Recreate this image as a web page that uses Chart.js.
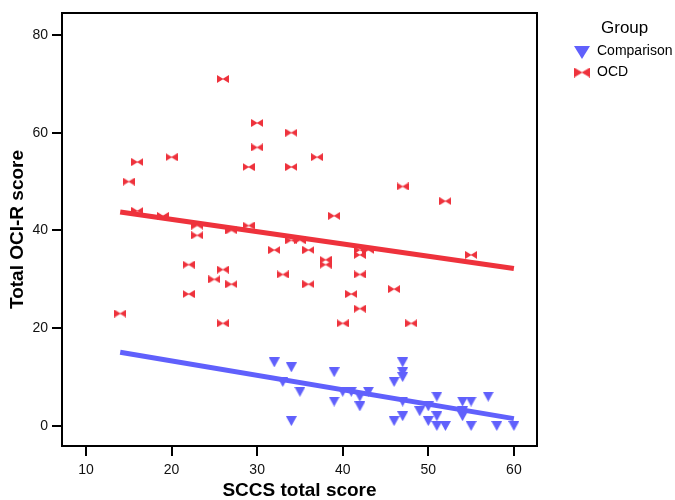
<!DOCTYPE html>
<html>
<head>
<meta charset="utf-8">
<script src="https://cdn.jsdelivr.net/npm/chart.js@4/dist/chart.umd.min.js"></script>
<style>
  body { margin: 0; background: #fff; }
</style>
</head>
<body>
<canvas id="my-chart" width="675" height="500"></canvas>
<script>
// values
const groups = ['Comparison', 'OCD']
const comparisonX = [32, 34, 33, 35, 34, 39, 39, 40, 41, 42, 42, 43, 47, 47, 47, 46, 47, 47, 46, 49, 50, 50, 51, 51, 51, 52, 54, 55, 54, 54, 55, 57, 58, 60]
const comparisonY = [13, 12, 9, 7, 1, 11, 5, 7, 7, 6, 4, 7, 13, 11, 10, 9, 5, 2, 1, 3, 4, 1, 6, 2, 0, 0, 5, 5, 3, 2, 0, 6, 0, 0]
const ocdX = [14, 15, 16, 16, 19, 20, 22, 22, 23, 23, 25, 26, 26, 26, 27, 27, 29, 29, 30, 30, 32, 33, 34, 34, 34, 35, 36, 36, 37, 38, 38, 39, 40, 41, 42, 42, 42, 42, 43, 46, 47, 48, 52, 55]
const ocdY = [23, 50, 54, 44, 43, 55, 33, 27, 41, 39, 30, 71, 32, 21, 40, 29, 53, 41, 62, 57, 36, 31, 60, 53, 38, 38, 36, 29, 55, 34, 33, 43, 21, 27, 36, 35, 31, 24, 36, 28, 49, 21, 46, 35]
// fit lines, end points
const fitX = [14, 60]
const comparisonFitY = [15.1, 1.5]
const ocdFitY = [43.8, 32.2]
const xTicks = [10, 20, 30, 40, 50, 60]
const yTicks = [0, 20, 40, 60, 80]

const blue = 'rgb(96, 96, 252)'
const red = 'rgb(238, 50, 60)'
const fontName = "'Liberation Sans', Arial, sans-serif"

const makeTriangle = (w, h, color) => {
  const c = document.createElement('canvas')
  c.width = w; c.height = h
  const g = c.getContext('2d')
  g.fillStyle = color
  g.beginPath(); g.moveTo(0, 0); g.lineTo(w, 0); g.lineTo(w / 2, h); g.closePath(); g.fill()
  return c
}
const makeBowtie = (w, h, color) => {
  const c = document.createElement('canvas')
  c.width = w; c.height = h
  const g = c.getContext('2d')
  g.fillStyle = color
  g.beginPath(); g.moveTo(0, 0); g.lineTo(w / 2 + 0.5, h / 2); g.lineTo(0, h); g.closePath(); g.fill()
  g.beginPath(); g.moveTo(w, 0); g.lineTo(w / 2 - 0.5, h / 2); g.lineTo(w, h); g.closePath(); g.fill()
  return c
}

const markers = {
  Comparison: makeTriangle(11, 10, blue),
  OCD: makeBowtie(12, 8, red)
}
const legendMarkers = {
  Comparison: makeTriangle(16, 13, blue),
  OCD: makeBowtie(16, 10, red)
}

const toPoints = (xs, ys) => xs.map((x, i) => ({ x: x, y: ys[i] }))

// plot frame and the group legend
const framePlugin = {
  id: 'frame',
  afterDraw(chart) {
    const { ctx, chartArea } = chart
    ctx.save()
    ctx.strokeStyle = '#000'
    ctx.lineWidth = 2
    ctx.strokeRect(chartArea.left, chartArea.top, chartArea.right - chartArea.left, chartArea.bottom - chartArea.top)

    ctx.fillStyle = '#000'
    ctx.textBaseline = 'middle'
    ctx.textAlign = 'left'
    ctx.font = '17px ' + fontName
    ctx.fillText('Group', 601, 28)
    ctx.font = '14px ' + fontName
    groups.forEach((name, i) => {
      const y = 51.5 + i * 21
      const m = legendMarkers[name]
      ctx.drawImage(m, 582 - m.width / 2, y - m.height / 2 + (i === 0 ? 1 : 0))
      ctx.fillText(name, 597, y)
    })
    ctx.restore()
  }
}

const ctx = document.getElementById('my-chart').getContext('2d')
const chart = new Chart(ctx, {
  data: {
    datasets: [
      {
        type: 'line',
        label: 'Comparison fit',
        data: toPoints(fitX, comparisonFitY),
        borderColor: blue,
        borderWidth: 5,
        pointRadius: 0,
        order: 0
      },
      {
        type: 'line',
        label: 'OCD fit',
        data: toPoints(fitX, ocdFitY),
        borderColor: red,
        borderWidth: 5,
        pointRadius: 0,
        order: 0
      },
      {
        type: 'scatter',
        label: 'Comparison',
        data: toPoints(comparisonX, comparisonY),
        pointStyle: markers.Comparison,
        order: 1
      },
      {
        type: 'scatter',
        label: 'OCD',
        data: toPoints(ocdX, ocdY),
        pointStyle: markers.OCD,
        order: 1
      }
    ]
  },
  options: {
    responsive: false,
    animation: false,
    layout: { padding: { top: 13, right: 138, left: 0, bottom: 0 } },
    plugins: {
      legend: { display: false },
      tooltip: { enabled: false }
    },
    scales: {
      x: {
        type: 'linear',
        min: 7.2,
        max: 62.7,
        afterFit: s => { s.height = 54 },
        afterBuildTicks: s => { s.ticks = xTicks.map(v => ({ value: v })) },
        border: { display: true, color: '#000', width: 2 },
        grid: { drawOnChartArea: false, drawTicks: true, tickLength: 10, color: '#000', lineWidth: 2 },
        ticks: { color: '#111', padding: 6, font: { family: fontName, size: 14 } },
        title: {
          display: true,
          text: 'SCCS total score',
          color: '#000',
          padding: { top: 0, bottom: 0 },
          font: { family: fontName, size: 19, weight: 'bold', lineHeight: 1 }
        }
      },
      y: {
        type: 'linear',
        min: -4.1,
        max: 84.5,
        afterFit: s => { s.width = 62 },
        afterBuildTicks: s => { s.ticks = yTicks.map(v => ({ value: v })) },
        border: { display: true, color: '#000', width: 2 },
        grid: { drawOnChartArea: false, drawTicks: true, tickLength: 10, color: '#000', lineWidth: 2 },
        ticks: { color: '#111', padding: 4, font: { family: fontName, size: 14 } },
        title: {
          display: true,
          text: 'Total OCI-R score',
          color: '#000',
          padding: { top: 8.5, bottom: 0 },
          font: { family: fontName, size: 19, weight: 'bold', lineHeight: 1 }
        }
      }
    }
  },
  plugins: [framePlugin]
})
</script>
</body>
</html>
